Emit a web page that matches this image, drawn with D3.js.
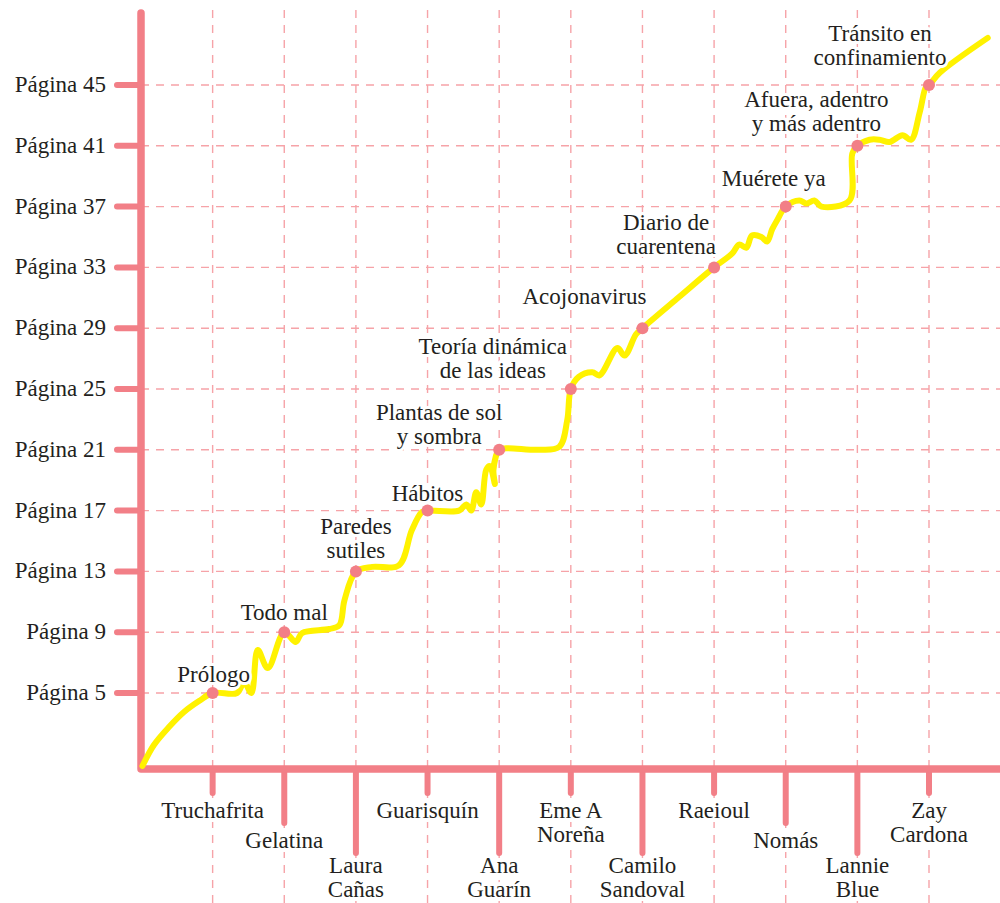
<!DOCTYPE html>
<html>
<head>
<meta charset="utf-8">
<script src="https://cdn.jsdelivr.net/npm/d3@7"></script>
</head>
<body style="margin:0;background:#fff">
<svg id="chart" width="1000" height="903"></svg>
<script>
// Authors along the x axis (one per chapter), and how far down each label hangs
const authors = [
  ["Truchafrita"], ["Gelatina"], ["Laura", "Cañas"], ["Guarisquín"], ["Ana", "Guarín"],
  ["Eme A", "Noreña"], ["Camilo", "Sandoval"], ["Raeioul"], ["Nomás"], ["Lannie", "Blue"],
  ["Zay", "Cardona"]
];
const tickLevel = [0, 1, 2, 0, 2, 0, 2, 0, 1, 2, 0];

// Chapters and the page they start on
const chapters = [
  ["Prólogo"], ["Todo mal"], ["Paredes", "sutiles"], ["Hábitos"], ["Plantas de sol", "y sombra"],
  ["Teoría dinámica", "de las ideas"], ["Acojonavirus"], ["Diario de", "cuarentena"],
  ["Muérete ya"], ["Afuera, adentro", "y más adentro"], ["Tránsito en", "confinamiento"]
];
const startPages = [5, 9, 13, 17, 21, 25, 29, 33, 37, 41, 45];

// label nudges [dx, dy] relative to the chapter dot
const labelShift = [[1, -11], [0, -12], [0, -13], [0, -10], [-60, -6], [-78, -11],
  [-58, -24], [-48, -13], [-12, -21], [-41, -15], [-49, -20]];

// y axis ticks
const pageTicks = [5, 9, 13, 17, 21, 25, 29, 33, 37, 41, 45];

// the hand-drawn reading path: [position along authors, page]
const pathPoints = [
  [0.02, 0.2], [0.18, 1.58], [0.39, 2.76], [0.6, 3.75], [0.81, 4.47], [1, 5],
  [1.34, 5], [1.44, 5.72], [1.54, 5.0], [1.63, 7.83], [1.77, 6.64], [2, 9],
  [2.16, 8.36], [2.25, 8.95], [2.63, 9.21], [2.77, 9.47], [2.84, 11.1], [3, 13],
  [3.23, 13.3], [3.6, 13.4], [3.78, 15.7], [3.92, 16.9], [4, 17],
  [4.44, 17.0], [4.54, 17.4], [4.61, 17.0], [4.68, 18.2], [4.75, 17.4], [4.82, 19.7],
  [4.87, 19.93], [4.94, 18.75], [4.92, 19.67], [5, 21],
  [5.1, 21.1], [5.56, 21.0], [5.84, 21.2], [5.95, 22.96], [6, 25],
  [6.11, 25.8], [6.3, 26.1], [6.4, 25.9], [6.65, 27.7], [6.75, 27.2], [6.91, 28.6], [7, 29],
  [7.51, 31.05], [8, 33],
  [8.25, 33.9], [8.35, 34.5], [8.45, 34.3], [8.53, 35.1], [8.66, 35.0], [8.74, 34.7],
  [8.81, 35.5], [8.88, 36.1], [9, 37],
  [9.19, 37.4], [9.29, 37.2], [9.4, 37.4], [9.5, 37.0], [9.89, 37.4], [9.93, 40.5], [10, 41],
  [10.17, 41.4], [10.31, 41.4], [10.45, 41.25], [10.63, 41.7], [10.75, 41.4], [10.87, 43.2],
  [10.96, 44.9], [11, 45],
  [11.15, 45.8], [11.82, 48.1]
];

const width = 1000, height = 903;
const pink = "#f27f87", gridPink = "#f6a3a8", yellow = "#fff200";
const labelFont = "'Liberation Serif'";

const svg = d3.select("#chart");

// serif type, set straight on each node
function serifText(sel) {
  sel.each(function() {
    this.style.fontFamily = labelFont;
    this.style.fontSize = "23px";
  })
  .attr("fill", "#231f20");
}

// 0 sits at the axis corner
const x = d3.scaleLinear().domain([0, 11]).range([141, 929]);
const y = d3.scaleLinear().domain([0, 45]).range([769, 85]);

// dashed grid
svg.append("g").selectAll("line")
  .data(pageTicks)
  .join("line")
  .attr("x1", 141).attr("x2", width)
  .attr("y1", d => y(d)).attr("y2", d => y(d))
  .attr("stroke", gridPink).attr("stroke-width", 1.4)
  .attr("stroke-dasharray", "8 7");

svg.append("g").selectAll("line")
  .data(authors)
  .join("line")
  .attr("x1", (d, i) => x(i + 1)).attr("x2", (d, i) => x(i + 1))
  .attr("y1", 10).attr("y2", height)
  .attr("stroke", gridPink).attr("stroke-width", 1.4)
  .attr("stroke-dasharray", "8 7");

// ticks
svg.append("g").selectAll("line")
  .data(pageTicks)
  .join("line")
  .attr("x1", 117).attr("x2", 141)
  .attr("y1", d => y(d)).attr("y2", d => y(d))
  .attr("stroke", pink).attr("stroke-width", 6).attr("stroke-linecap", "round");

svg.append("g").selectAll("line")
  .data(authors)
  .join("line")
  .attr("x1", (d, i) => x(i + 1)).attr("x2", (d, i) => x(i + 1))
  .attr("y1", 769).attr("y2", (d, i) => 793 + tickLevel[i] * 30)
  .attr("stroke", pink).attr("stroke-width", 6).attr("stroke-linecap", "round");

// axes as one bent stroke
svg.append("path")
  .attr("d", `M141,13 L141,769 L${width + 5},769`)
  .attr("fill", "none")
  .attr("stroke", pink).attr("stroke-width", 7.5)
  .attr("stroke-linecap", "round").attr("stroke-linejoin", "round");

// y labels
svg.append("g").selectAll("text")
  .data(pageTicks)
  .join("text")
  .call(serifText)
  .attr("x", 106).attr("y", d => y(d) + 7)
  .attr("text-anchor", "end")
  .text(d => `Página ${d}`);

// author labels
const authorText = svg.append("g").selectAll("text")
  .data(authors)
  .join("text")
  .call(serifText)
  .attr("text-anchor", "middle")
  .attr("paint-order", "stroke")
  .attr("stroke", "#fff").attr("stroke-width", 8)
  .attr("transform", (d, i) => `translate(${x(i + 1)},${818 + [0, 30, 55][tickLevel[i]]})`);
authorText.selectAll("tspan")
  .data(d => d)
  .join("tspan")
  .attr("x", 0).attr("y", (d, j) => j * 24)
  .text(d => d);

// reading path
svg.append("path")
  .datum(pathPoints)
  .attr("d", d3.line().x(d => x(d[0])).y(d => y(d[1])).curve(d3.curveCatmullRom.alpha(0.5)))
  .attr("fill", "none")
  .attr("stroke", yellow).attr("stroke-width", 6)
  .attr("stroke-linecap", "round").attr("stroke-linejoin", "round");

// chapter dots
svg.append("g").selectAll("circle")
  .data(startPages)
  .join("circle")
  .attr("cx", (d, i) => x(i + 1)).attr("cy", d => y(d))
  .attr("r", 6)
  .attr("fill", pink);

// chapter labels
const chapterText = svg.append("g").selectAll("text")
  .data(chapters)
  .join("text")
  .call(serifText)
  .attr("text-anchor", "middle")
  .attr("paint-order", "stroke")
  .attr("stroke", "#fff").attr("stroke-width", 6)
  .attr("transform", (d, i) => `translate(${x(i + 1) + labelShift[i][0]},${y(startPages[i]) + labelShift[i][1] - (d.length - 1) * 24})`);
chapterText.selectAll("tspan")
  .data(d => d)
  .join("tspan")
  .attr("x", 0).attr("y", (d, j) => j * 24)
  .text(d => d);
</script>
</body>
</html>
